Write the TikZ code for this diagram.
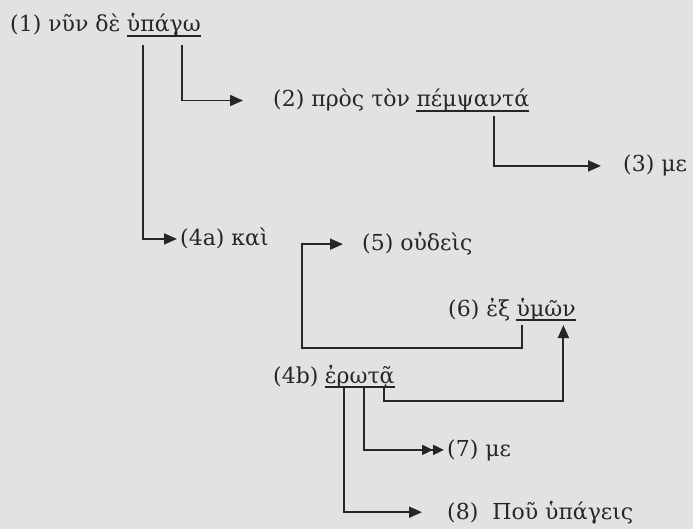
\documentclass[tikz,border=0pt]{standalone}
\usepackage{fontspec}
\setmainfont{DejaVu Serif}
\usetikzlibrary{arrows.meta,calc}
\definecolor{paper}{HTML}{E2E2E0}
\definecolor{ink}{HTML}{262626}
\begin{document}
\begin{tikzpicture}[x=1pt,y=-1pt,
 font=\fontsize{22}{26}\selectfont,
 txt/.style={anchor=base west,inner sep=0pt,text=ink},
 link/.style={ink,line width=1.9pt,-{Triangle[length=13pt,width=11pt]}},
 dlink/.style={link,-{Triangle[length=11pt,width=10pt]Triangle[length=11pt,width=10pt]}},
 uline/.style={ink,line width=1.4pt}]

\fill[paper] (0,0) rectangle (693,529);
\useasboundingbox (0,0) rectangle (693,529);

% phrases on their baselines, underlined words follow their prefix
\node[txt] (t1) at (10,32) {(1) νῦν δὲ};
\node[txt] (w1) at ([xshift=6pt]t1.base east) {ὑπάγω};
\node[txt] (t2) at (273,107) {(2) πρὸς τὸν};
\node[txt] (w2) at ([xshift=6pt]t2.base east) {πέμψαντά};
\node[txt] (t3) at (623,172) {(3) με};
\node[txt] (t4a) at (180,246) {(4a) καὶ};
\node[txt] (t5) at (362,251) {(5) οὐδεὶς};
\node[txt] (t6) at (448,316) {(6) ἐξ};
\node[txt] (w6) at ([xshift=6pt]t6.base east) {ὑμῶν};
\node[txt] (t4b) at (273,383) {(4b)};
\node[txt] (w4b) at ([xshift=6pt]t4b.base east) {ἐρωτᾷ};
\node[txt] (t7) at (447,456) {(7) με};
\node[txt] (t8) at (447,519) {(8)~~Ποῦ ὑπάγεις};

\foreach \w in {w1,w2,w6,w4b}{
  \draw[uline] ([yshift=-4pt]\w.base west) -- ([yshift=-4pt]\w.base east);
}

% drop points below the underlined words
\coordinate (d1a) at ($(w1.base west)!0.22!(w1.base east)+(0,13)$);
\coordinate (d1b) at ($(w1.base west)!0.74!(w1.base east)+(0,13)$);
\coordinate (d2) at ($(w2.base west)!0.69!(w2.base east)+(0,9)$);
\coordinate (d6) at ($(w6.base west)!0.10!(w6.base east)+(0,9)$);
\coordinate (e6) at ($(w6.base west)!0.79!(w6.base east)+(0,9)$);
\coordinate (d4a) at ($(w4b.base west)!0.28!(w4b.base east)+(0,4)$);
\coordinate (d4b) at ($(w4b.base west)!0.56!(w4b.base east)+(0,4)$);
\coordinate (d4c) at ($(w4b.base west)!0.85!(w4b.base east)+(0,4)$);
\coordinate (k5) at (302,348);

\draw[link] (d1b) |- ([xshift=-30pt]t2.west);
\draw[link] (d1a) |- ([xshift=-3pt]t4a.west);
\draw[link] (d2) |- ([xshift=-22pt]t3.west);
\draw[link] (d6) |- (k5) |- ([xshift=-19pt]t5.west);
\draw[link] (d4c) -- ++(0,14) -| (e6);
\draw[dlink] (d4b) |- ([xshift=-3pt]t7.west);
\draw[link] (d4a) |- ([xshift=-25pt]t8.west);
\end{tikzpicture}
\end{document}
